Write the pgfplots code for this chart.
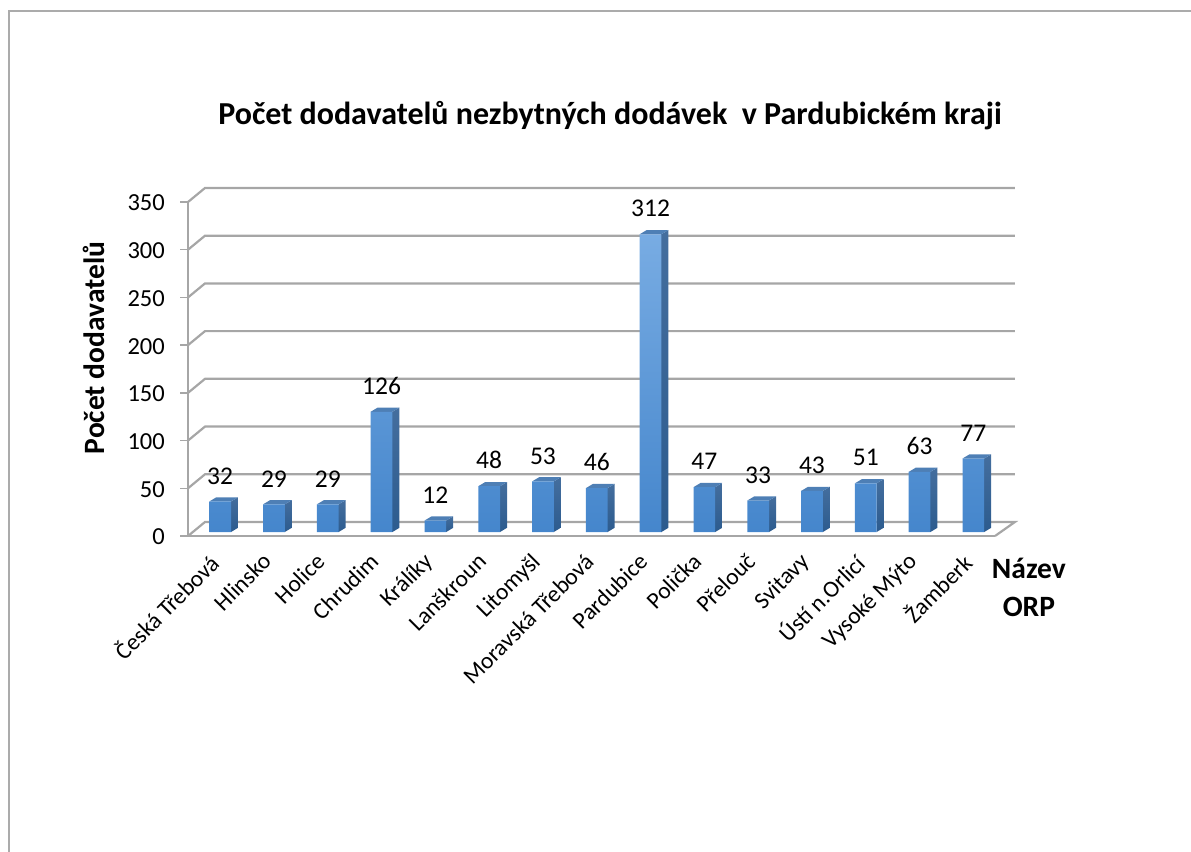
\documentclass[border=0pt]{standalone}
\usepackage{pgfplots}
\pgfplotsset{compat=1.18}
\usepackage{fontspec}
\setmainfont{Carlito}
\definecolor{gridc}{HTML}{A6A6A6}
\definecolor{framec}{HTML}{ABABAB}
\definecolor{fronttop}{HTML}{78ACE3}
\definecolor{frontmid}{HTML}{5E9FE0}
\definecolor{frontbot}{HTML}{4586CC}
\definecolor{sidetop}{HTML}{446E9E}
\definecolor{sidebot}{HTML}{2C5B8E}
\definecolor{topc}{HTML}{4E7FB5}
\newcommand{\fs}[1]{\fontsize{#1bp}{#1bp}\selectfont}
\begin{document}
\begin{tikzpicture}[x=1bp,y=-1bp]
\path[use as bounding box] (0,0) rectangle (1191,852);
\draw[framec,line width=2.5bp] (9,854) -- (9,11) -- (1193,11);
\begin{axis}[
  at={(188bp,-536bp)}, anchor=south west,
  scale only axis, width=807bp, height=334bp,
  xmin=-0.5, xmax=14.5, ymin=0, ymax=350,
  clip=false,
  axis lines=left,
  axis line style={-, draw=gridc, line width=2.2bp},
  xtick={0,...,14},
  xticklabels={Česká Třebová,Hlinsko,Holice,Chrudim,Králíky,Lanškroun,Litomyšl,Moravská Třebová,Pardubice,Polička,Přelouč,Svitavy,Ústí n.Orlicí,Vysoké Mýto,Žamberk},
  xticklabel style={rotate=45, anchor=north east, font=\fs{23.5}, text=black, inner sep=0pt, xshift=-10.8bp, yshift=0.4bp},
  xtick style={draw=none},
  major tick length=8bp,
  ytick={0,50,...,350},
  tick align=outside,
  ytick style={draw=gridc, line width=1.5bp},
  yticklabel style={font=\fs{24.5}, text=black, inner sep=0pt, xshift=-15bp, yshift=-1bp},
  /pgf/number format/assume math mode=true,
  title={Počet dodavatelů nezbytných dodávek \ v Pardubickém kraji},
  title style={at={(0.523,1.24)}, anchor=center, font=\fs{32}\bfseries},
  ylabel={Počet dodavatelů},
  ylabel style={at={(-0.117,0.563)}, anchor=center, font=\fs{29.5}\bfseries},
  xlabel={Název\\[8.5bp]ORP},
  xlabel style={at={(1.042,-0.153)}, anchor=center, align=center, font=\fs{29.5}\bfseries},
]
% walls: back gridlines
\addplot[gridc, line width=2.2bp, forget plot] coordinates {(-0.5,0) (-0.184,14.7) (14.87,14.7) (14.5,0)};
\addplot[gridc, line width=2.2bp, forget plot] coordinates {(-0.5,50) (-0.184,64.7) (14.87,64.7)};
\addplot[gridc, line width=2.2bp, forget plot] coordinates {(-0.5,100) (-0.184,114.7) (14.87,114.7)};
\addplot[gridc, line width=2.2bp, forget plot] coordinates {(-0.5,150) (-0.184,164.7) (14.87,164.7)};
\addplot[gridc, line width=2.2bp, forget plot] coordinates {(-0.5,200) (-0.184,214.7) (14.87,214.7)};
\addplot[gridc, line width=2.2bp, forget plot] coordinates {(-0.5,250) (-0.184,264.7) (14.87,264.7)};
\addplot[gridc, line width=2.2bp, forget plot] coordinates {(-0.5,300) (-0.184,314.7) (14.87,314.7)};
\addplot[gridc, line width=2.2bp, forget plot] coordinates {(-0.5,350) (-0.184,364.7) (14.87,364.7)};
% side and top faces of the bars
\foreach \v [count=\n from 0] in {32,29,29,126,12,48,53,46,312,47,33,43,51,63,77} {
  \pgfmathsetmacro{\xl}{\n-0.2017}
  \pgfmathsetmacro{\xr}{\n+0.2017}
  \pgfmathsetmacro{\xe}{\n+0.2017+0.13}
  \pgfmathsetmacro{\xb}{\n-0.2017+0.13}
  \pgfmathsetmacro{\vt}{\v+4.4}
  \edef\temp{\noexpand\addplot[draw=none, top color=sidetop, bottom color=sidebot, xshift=5.25bp, yshift=4bp, forget plot] coordinates {(\xr,0) (\xr,\v) (\xe,\vt) (\xe,4.4) (\xr,0)};
  \noexpand\addplot[draw=none, fill=topc, xshift=5.25bp, yshift=4bp, forget plot] coordinates {(\xl,\v) (\xr,\v) (\xe,\vt) (\xb,\vt) (\xl,\v)};}
  \temp
}
% front faces and data labels
\addplot[ybar, bar width=21.7bp, bar shift=0pt, draw=none,
  top color=fronttop, middle color=frontmid, bottom color=frontbot,
  xshift=5.25bp, yshift=4bp,
  nodes near coords,
  every node near coord/.append style={font=\fs{25.5}, text=black, anchor=south, yshift=16bp, inner sep=1bp, /pgf/number format/assume math mode=true},
] coordinates {
 (0,32) (1,29) (2,29) (3,126) (4,12) (5,48) (6,53) (7,46) (8,312) (9,47) (10,33) (11,43) (12,51) (13,63) (14,77)
};
\end{axis}
\end{tikzpicture}
\end{document}
